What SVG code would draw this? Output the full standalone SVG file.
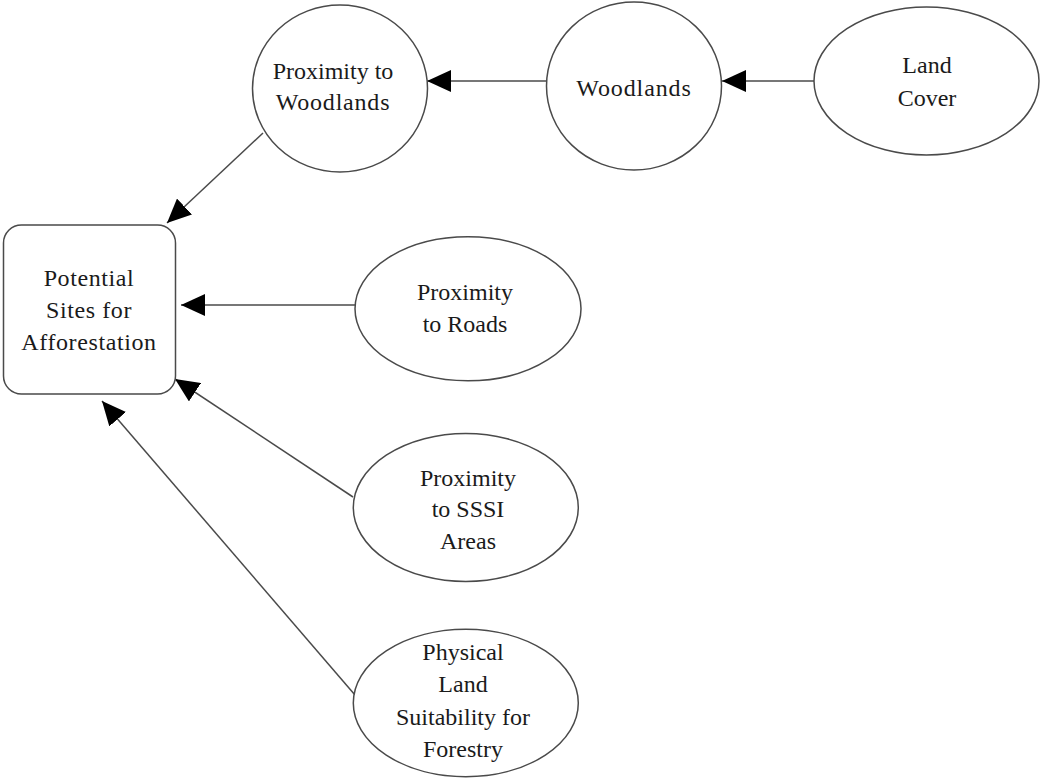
<svg xmlns="http://www.w3.org/2000/svg" width="1041" height="779" viewBox="0 0 1041 779">
  <style>
    .shape { fill: #ffffff; stroke: #4a4a4a; stroke-width: 1.5; }
    .lbl { font-family: "Liberation Serif", "Times New Roman", serif; font-size: 24px; fill: #1a1a1a; text-anchor: middle; }
    .conn { stroke: #4a4a4a; stroke-width: 1.5; fill: none; marker-end: url(#arrow); }
  </style>
  <defs>
    <marker id="arrow" viewBox="0 0 24 22" refX="24" refY="11" markerWidth="24" markerHeight="22" markerUnits="userSpaceOnUse" orient="auto">
      <path d="M0,0 L24,11 L0,22 z" fill="#000000"/>
    </marker>
  </defs>
  <rect width="1041" height="779" fill="#ffffff"/>

  <g id="connectors">
    <path class="conn" d="M814,81 L722,81"/>
    <path class="conn" d="M546.5,81 L427,81"/>
    <path class="conn" d="M263,133 L167,223"/>
    <path class="conn" d="M356,305 L181,305"/>
    <path class="conn" d="M353,497 L175,379"/>
    <path class="conn" d="M355,695 L102,401"/>
  </g>

  <g id="node-proximity-woodlands">
    <ellipse class="shape" cx="340" cy="88.5" rx="87.5" ry="83.5"/>
    <text class="lbl" x="333" y="79">Proximity to</text>
    <text class="lbl" x="333" y="110" letter-spacing="0.8">Woodlands</text>
  </g>

  <g id="node-woodlands">
    <ellipse class="shape" cx="634" cy="86" rx="87.5" ry="84"/>
    <text class="lbl" x="634" y="96" letter-spacing="0.9">Woodlands</text>
  </g>

  <g id="node-land-cover">
    <ellipse class="shape" cx="926.5" cy="81" rx="112.5" ry="74"/>
    <text class="lbl" x="927" y="73">Land</text>
    <text class="lbl" x="927" y="106">Cover</text>
  </g>

  <g id="node-potential-sites">
    <rect class="shape" x="3.5" y="225" width="172" height="169" rx="18" ry="18"/>
    <text class="lbl" x="89" y="286" letter-spacing="0.6">Potential</text>
    <text class="lbl" x="89" y="318" letter-spacing="0.6">Sites for</text>
    <text class="lbl" x="89" y="350" letter-spacing="0.6">Afforestation</text>
  </g>

  <g id="node-proximity-roads">
    <ellipse class="shape" cx="468" cy="308.8" rx="113" ry="72"/>
    <text class="lbl" x="465" y="300">Proximity</text>
    <text class="lbl" x="465" y="332">to Roads</text>
  </g>

  <g id="node-proximity-sssi">
    <ellipse class="shape" cx="465.8" cy="507.5" rx="112.5" ry="74"/>
    <text class="lbl" x="468" y="486">Proximity</text>
    <text class="lbl" x="468" y="517">to SSSI</text>
    <text class="lbl" x="468" y="549">Areas</text>
  </g>

  <g id="node-physical-land">
    <ellipse class="shape" cx="465.8" cy="703" rx="112.5" ry="73.7"/>
    <text class="lbl" x="463" y="660">Physical</text>
    <text class="lbl" x="463" y="692">Land</text>
    <text class="lbl" x="463" y="725">Suitability for</text>
    <text class="lbl" x="463" y="757">Forestry</text>
  </g>
</svg>
